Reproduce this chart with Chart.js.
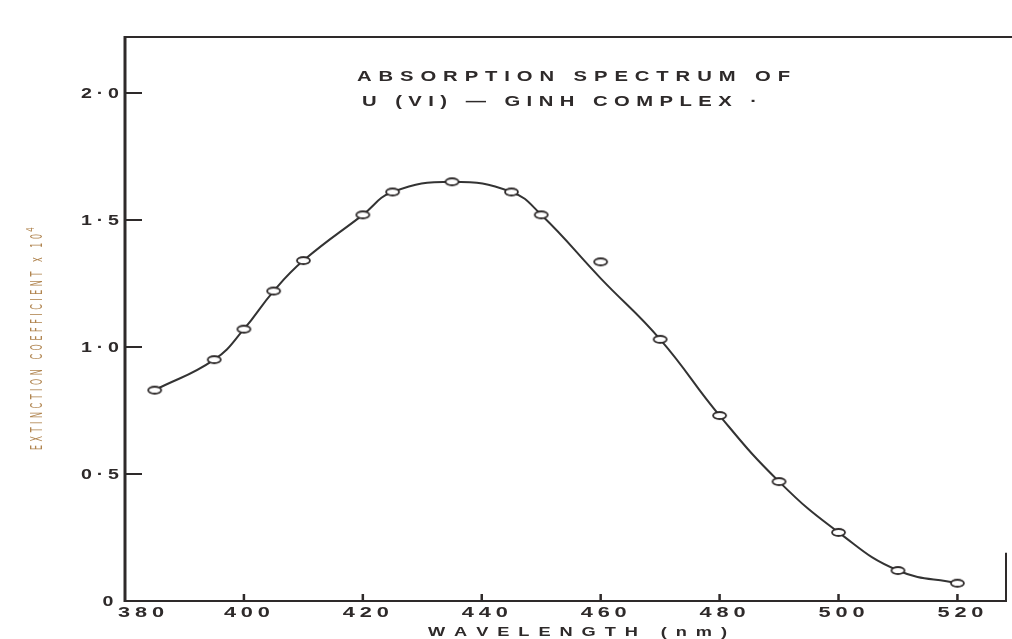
<!DOCTYPE html>
<html>
<head>
<meta charset="utf-8">
<script src="https://cdn.jsdelivr.net/npm/chart.js@4.4.1/dist/chart.umd.min.js"></script>
<style>
  html, body { margin: 0; padding: 0; background: #fff; }
  canvas { display: block; }
</style>
</head>
<body>
<canvas id="spectrum" width="1012" height="639"></canvas>
<script>
// measured points (open circles)
const wavelength = [385, 395, 400, 405, 410, 420, 425, 435, 445, 450, 460, 470, 480, 490, 500, 510, 520];
const extinction = [0.83, 0.95, 1.07, 1.22, 1.34, 1.52, 1.61, 1.65, 1.61, 1.52, 1.335, 1.03, 0.73, 0.47, 0.27, 0.12, 0.07];

// the hand-drawn curve (it misses the 460 nm point)
const curveWavelength = [385, 395, 400, 405, 410, 420, 425, 435, 445, 450, 460, 470, 480, 490, 500, 510, 520];
const curveExtinction = [0.83, 0.95, 1.07, 1.22, 1.34, 1.52, 1.61, 1.65, 1.61, 1.52, 1.27, 1.03, 0.73, 0.47, 0.27, 0.12, 0.07];

const xTicks = [380, 400, 420, 440, 460, 480, 500, 520];
const yTicks = [0, 0.5, 1, 1.5, 2];
const yTickLabels = ["0", "0·5", "1·0", "1·5", "2·0"];

const ink = "#2e2a2a";

// small open ellipse used as the marker
const marker = document.createElement("canvas");
marker.width = 17;
marker.height = 11;
(() => {
  const m = marker.getContext("2d");
  m.beginPath();
  m.ellipse(8.5, 5.5, 6.5, 3.5, 0, 0, Math.PI * 2);
  m.fillStyle = "#fff";
  m.fill();
  m.lineWidth = 1.8;
  m.strokeStyle = ink;
  m.stroke();
})();

// draw text letter by letter so it fills x0..x1 (wide stencil lettering)
function drawSpaced(ctx, text, x0, x1, y, sx) {
  const chars = [...text];
  const ws = chars.map((c) => ctx.measureText(c).width * sx);
  const total = ws.reduce((a, b) => a + b, 0);
  const gap = chars.length > 1 ? (x1 - x0 - total) / (chars.length - 1) : 0;
  let x = chars.length > 1 ? x0 : (x0 + x1 - total) / 2;
  chars.forEach((c, i) => {
    ctx.save();
    ctx.translate(x, y);
    ctx.scale(sx, 1);
    ctx.fillText(c, 0, 0);
    ctx.restore();
    x += ws[i] + gap;
  });
}

const framePlugin = {
  id: "frame",
  afterDraw(chart) {
    const { ctx, chartArea } = chart;
    const xs = chart.scales.x;
    const ys = chart.scales.y;
    const { left, right, top, bottom } = chartArea;

    ctx.save();
    ctx.strokeStyle = ink;
    ctx.lineCap = "butt";

    // frame
    ctx.lineWidth = 3;
    ctx.beginPath();
    ctx.moveTo(left, top - 1);
    ctx.lineTo(left, bottom + 1);
    ctx.stroke();
    ctx.lineWidth = 2;
    ctx.beginPath();
    ctx.moveTo(left - 1, top);
    ctx.lineTo(chart.width, top);
    ctx.moveTo(left, bottom);
    ctx.lineTo(right + 2, bottom);
    ctx.moveTo(right + 1, bottom);
    ctx.lineTo(right + 1, ys.getPixelForValue(0.19));
    ctx.stroke();

    // inward ticks
    ctx.lineWidth = 2;
    ctx.beginPath();
    yTicks.slice(1).forEach((v) => {
      const py = ys.getPixelForValue(v);
      ctx.moveTo(left, py);
      ctx.lineTo(left + 17, py);
    });
    ctx.stroke();
    ctx.lineWidth = 2.5;
    ctx.beginPath();
    xTicks.slice(1).forEach((v) => {
      const px = xs.getPixelForValue(v);
      ctx.moveTo(px, bottom);
      ctx.lineTo(px, bottom - 7);
    });
    ctx.stroke();

    // tick labels
    ctx.fillStyle = ink;
    ctx.textAlign = "left";
    ctx.textBaseline = "alphabetic";
    ctx.font = "bold 14px 'Liberation Sans'";
    yTicks.forEach((v, i) => {
      const py = ys.getPixelForValue(v) + 5;
      const lab = yTickLabels[i];
      if (lab.length === 1) drawSpaced(ctx, lab, left - 24, left - 10, py, 1.4);
      else drawSpaced(ctx, lab, left - 44, left - 6, py, 1.4);
    });
    ctx.font = "bold 15px 'Liberation Sans'";
    xTicks.forEach((v, i) => {
      const cx = xs.getPixelForValue(v) + (i === 0 ? 16 : 3);
      drawSpaced(ctx, String(v), cx - 23, cx + 23, bottom + 16, 1.45);
    });

    // axis titles
    ctx.font = "bold 13px 'Liberation Sans'";
    drawSpaced(ctx, "WAVELENGTH (nm)", 428, 727, 636, 1.4);

    ctx.save();
    ctx.fillStyle = "#b0844f";
    ctx.translate(42, 335);
    ctx.rotate(-Math.PI / 2);
    ctx.font = "16px 'DejaVu Sans'";
    drawSpaced(ctx, "EXTINCTION COEFFICIENT x 10", -115, 101, 0, 0.5);
    ctx.font = "10px 'DejaVu Sans'";
    drawSpaced(ctx, "4", 102, 109, -8, 0.7);
    ctx.restore();

    // title inside the plot
    ctx.font = "bold 15px 'Liberation Sans'";
    drawSpaced(ctx, "ABSORPTION SPECTRUM OF", 357, 790, 81, 1.35);
    drawSpaced(ctx, "U (VI) — GINH COMPLEX ·", 362, 757, 106, 1.35);
    ctx.restore();
  },
};

new Chart(document.getElementById("spectrum"), {
  type: "scatter",
  data: {
    datasets: [
      {
        label: "points",
        data: wavelength.map((x, i) => ({ x, y: extinction[i] })),
        pointStyle: marker,
        pointRadius: 6,
        showLine: false,
        order: 0,
      },
      {
        label: "curve",
        data: curveWavelength.map((x, i) => ({ x, y: curveExtinction[i] })),
        showLine: true,
        borderColor: "#333",
        borderWidth: 2,
        pointRadius: 0,
        tension: 0.45,
        order: 1,
      },
    ],
  },
  options: {
    responsive: false,
    animation: false,
    layout: { padding: { left: 0, top: 37, right: 4, bottom: 0 } },
    plugins: {
      legend: { display: false },
      tooltip: { enabled: false },
      title: { display: false },
    },
    scales: {
      x: {
        type: "linear",
        min: 380,
        max: 528,
        grid: { display: false },
        border: { display: false },
        ticks: { display: false },
        afterFit: (s) => { s.height = 38; },
      },
      y: {
        min: 0,
        max: 2.22,
        grid: { display: false },
        border: { display: false },
        ticks: { display: false },
        afterFit: (s) => { s.width = 125; },
      },
    },
  },
  plugins: [framePlugin],
});
</script>
</body>
</html>
